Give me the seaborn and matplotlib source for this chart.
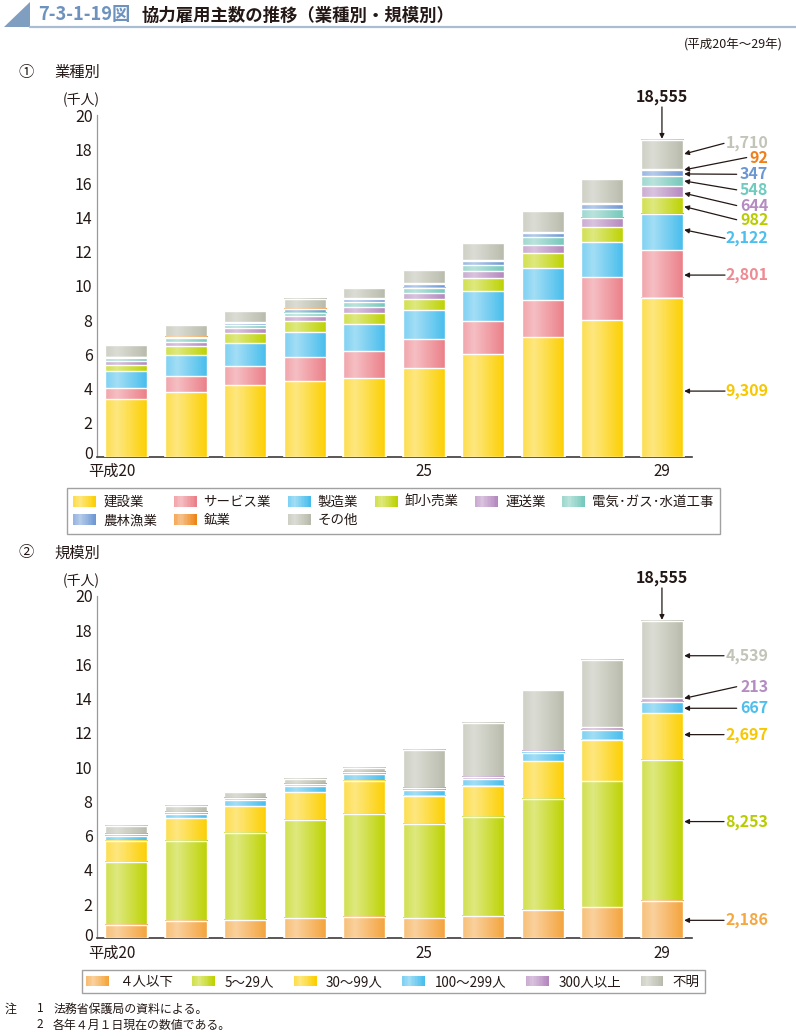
import numpy as np
import pandas as pd
import matplotlib
matplotlib.use('Agg')
import matplotlib.pyplot as plt
import seaborn as sns
from matplotlib.patches import Patch, Rectangle, Polygon
from matplotlib.legend_handler import HandlerBase
from matplotlib.lines import Line2D
from matplotlib import colors as mcolors
import matplotlib.transforms as mtrans

# ---------------- data (千人) ----------------
years = ['平成20', '21', '22', '23', '24', '25', '26', '27', '28', '29']
tick_pos = [0, 5, 9]
tick_labels = ['平成20', '25', '29']

ind_names = ['建設業', 'サービス業', '製造業', '卸小売業', '運送業',
             '電気･ガス･水道工事', '農林漁業', '鉱業', 'その他']
construction = [3.35, 3.78, 4.21, 4.44, 4.62, 5.20, 6.02, 7.01, 8.00, 9.309]
service = [0.66, 0.95, 1.11, 1.40, 1.58, 1.69, 1.93, 2.14, 2.53, 2.801]
manufacturing = [0.98, 1.23, 1.34, 1.44, 1.56, 1.67, 1.75, 1.91, 2.01, 2.122]
wholesale = [0.38, 0.52, 0.58, 0.66, 0.66, 0.66, 0.76, 0.84, 0.90, 0.982]
transport = [0.24, 0.24, 0.28, 0.27, 0.35, 0.35, 0.39, 0.47, 0.55, 0.644]
utilities = [0.15, 0.23, 0.19, 0.23, 0.27, 0.33, 0.37, 0.46, 0.51, 0.548]
agriculture = [0.05, 0.06, 0.12, 0.19, 0.19, 0.19, 0.23, 0.26, 0.27, 0.347]
mining = [0.02, 0.02, 0.03, 0.04, 0.05, 0.05, 0.06, 0.07, 0.08, 0.092]
other_ind = [0.68, 0.68, 0.64, 0.58, 0.60, 0.80, 1.01, 1.22, 1.40, 1.710]

size_names = ['４人以下', '5～29人', '30～99人', '100～299人', '300人以上', '不明']
s_1_4 = [0.80, 1.03, 1.09, 1.17, 1.23, 1.17, 1.32, 1.64, 1.81, 2.186]
s_5_29 = [3.66, 4.65, 5.08, 5.74, 6.02, 5.51, 5.77, 6.50, 7.36, 8.253]
s_30_99 = [1.25, 1.32, 1.54, 1.62, 1.93, 1.62, 1.81, 2.20, 2.43, 2.697]
s_100_299 = [0.29, 0.29, 0.35, 0.35, 0.41, 0.35, 0.39, 0.47, 0.56, 0.667]
s_300 = [0.08, 0.10, 0.12, 0.12, 0.12, 0.12, 0.12, 0.16, 0.16, 0.213]
s_unknown = [0.47, 0.33, 0.35, 0.33, 0.25, 2.26, 3.17, 3.51, 3.95, 4.539]

# ---------------- style ----------------
ind_colors = ['#FCCF00', '#EB7E87', '#46BDEC', '#BDD200', '#B487BE',
              '#74C7BA', '#6C97D4', '#EE8516', '#B8BBAB']
ind_text_colors = ['#F7C700', '#EE8A92', '#4DBFEC', '#B9CC00', '#B58CC2',
                   '#6ECBBE', '#6B97D3', '#EE7F1A', '#C2C4B8']
size_colors = ['#F4A33B', '#BDD200', '#FCCF00', '#46BDEC', '#B487BE', '#B8BBAB']
size_text_colors = ['#F5A742', '#B9CC00', '#F7C700', '#4DBFEC', '#B58CC2', '#C2C4B8']
DARK = '#231815'
BAR_W = 0.707

sns.set_theme(style='white')
plt.rcParams['font.family'] = ['Noto Sans CJK JP', 'DejaVu Sans']
plt.rcParams['axes.unicode_minus'] = False


def gradient(c, n=96):
    base = np.array(mcolors.to_rgb(c))
    t = np.linspace(0, 1, n)
    w = np.interp(t, [0, 0.28, 1], [0.30, 0.50, 0.0])
    rgb = base * (1 - w)[:, None] + w[:, None]
    return rgb[None, :, :]


class GradHandler(HandlerBase):
    def create_artists(self, legend, orig_handle, xdescent, ydescent,
                       width, height, fontsize, trans):
        g = gradient(orig_handle.get_facecolor(), n=16)[0]
        n = len(g)
        arts = []
        for i, c in enumerate(g):
            r = Rectangle((-xdescent + width * i / n, -ydescent),
                          width / n * 1.05, height, facecolor=c,
                          edgecolor='none', transform=trans)
            arts.append(r)
        return arts


def draw_stack(ax, layers, cols):
    cums = np.cumsum(np.array(layers), axis=0)
    nl = len(layers)
    for k in range(nl - 1, -1, -1):
        z = 2 + (nl - 1 - k) * 3
        before = len(ax.patches)
        df = pd.DataFrame({'year': years, 'value': cums[k]})
        sns.barplot(data=df, x='year', y='value', order=years, color=cols[k],
                    saturation=1, width=BAR_W, errorbar=None, ax=ax,
                    zorder=z, linewidth=0)
        for p in ax.patches[before:]:
            x0, w, h = p.get_x(), p.get_width(), p.get_height()
            ax.imshow(gradient(cols[k]), extent=(x0, x0 + w, 0, h),
                      aspect='auto', interpolation='bilinear', zorder=z + 1)
            ax.add_patch(Rectangle((x0, 0), w, h, fill=False,
                                   edgecolor='white', lw=1.0, zorder=z + 2))
    return cums


def style_axes(ax):
    ax.set_xlim(-0.5, 9.5)
    ax.set_ylim(0, 20)
    ax.set_yticks(range(0, 21, 2))
    ax.set_xticks(tick_pos)
    ax.set_xticklabels(tick_labels)
    ax.set_xlabel('')
    ax.set_ylabel('')
    sns.despine(ax=ax)
    ax.spines['left'].set_color('#9a9a9a')
    ax.spines['left'].set_linewidth(0.9)
    ax.spines['bottom'].set_color('#3e3a39')
    ax.spines['bottom'].set_linewidth(1.2)
    ax.tick_params(axis='y', direction='in', length=5, width=0.8,
                   color='#8c8c8c', labelsize=11.5, pad=3, labelcolor=DARK)
    ax.tick_params(axis='x', length=0, labelsize=11, pad=4.5, labelcolor=DARK)
    lab = ax.get_xticklabels()[0]
    lab.set_ha('right')
    lab.set_transform(lab.get_transform() +
                      mtrans.ScaledTranslation(0.09, 0, fig.dpi_scale_trans))
    zero = ax.get_yticklabels()[0]
    zero.set_transform(zero.get_transform() +
                       mtrans.ScaledTranslation(0, 0.04, fig.dpi_scale_trans))
    ax.grid(False)


def label_arrow(ax, text, color, ty, tip_y, tail_x):
    tip_x = 9 + BAR_W / 2 + 0.02
    ax.annotate('', xy=(tip_x, tip_y), xytext=(tail_x, ty),
                arrowprops=dict(arrowstyle='-|>', color=DARK, lw=0.9,
                                mutation_scale=7, shrinkA=0, shrinkB=0),
                annotation_clip=False, zorder=60)
    ax.text(10.787, ty, text, ha='right', va='center', color=color,
            fontsize=11.5, fontweight='bold', clip_on=False)


def total_arrow(ax, total):
    ax.annotate('', xy=(9, total + 0.05), xytext=(9, 20.47),
                arrowprops=dict(arrowstyle='-|>', color=DARK, lw=0.9,
                                mutation_scale=7, shrinkA=0, shrinkB=0),
                annotation_clip=False, zorder=60)
    ax.text(9, 21.08, f"{round(total * 1000):,}", ha='center', va='center',
            color=DARK, fontsize=11.5, fontweight='bold', clip_on=False)


W, H = 796, 1036
fig = plt.figure(figsize=(W / 100, H / 100), dpi=100)
ax1 = fig.add_axes([96.7 / W, (H - 456.7) / H, 595 / W, 341.7 / H])
ax2 = fig.add_axes([96.7 / W, (H - 938.3) / H, 595 / W, 342.3 / H])

# ---- chart 1 : 業種別 ----
ind_layers = [construction, service, manufacturing, wholesale, transport,
              utilities, agriculture, mining, other_ind]
draw_stack(ax1, ind_layers, ind_colors)
style_axes(ax1)

# annotation layout: (layer index, text y, tip y, tail x)
ind_ann = [(8, 18.34, 17.72, 10.043), (7, 17.51, 16.79, 10.424),
           (6, 16.53, 16.55, 10.256), (5, 15.62, 16.14, 10.256),
           (4, 14.70, 15.42, 10.256), (3, 13.87, 14.64, 10.256),
           (2, 12.78, 13.28, 10.06), (1, 10.63, 10.63, 10.06),
           (0, 3.84, 3.84, 10.06)]
for k, ty, tip, tx in ind_ann:
    v = ind_layers[k][-1]
    label_arrow(ax1, f"{round(v * 1000):,}", ind_text_colors[k], ty, tip, tx)
total_arrow(ax1, sum(l[-1] for l in ind_layers))

# ---- chart 2 : 規模別 ----
size_layers = [s_1_4, s_5_29, s_30_99, s_100_299, s_300, s_unknown]
draw_stack(ax2, size_layers, size_colors)
style_axes(ax2)
size_ann = [(5, 16.51, 16.51, 10.043), (4, 14.70, 14.02, 10.256),
            (3, 13.44, 13.44, 10.256), (2, 11.90, 11.90, 10.043),
            (1, 6.82, 6.82, 10.043), (0, 1.05, 1.05, 10.043)]
for k, ty, tip, tx in size_ann:
    v = size_layers[k][-1]
    label_arrow(ax2, f"{round(v * 1000):,}", size_text_colors[k], ty, tip, tx)
total_arrow(ax2, sum(l[-1] for l in size_layers))

# ---- legends ----
order1 = [0, 6, 1, 7, 2, 8, 3, 4, 5]
h1 = [Patch(facecolor=ind_colors[i]) for i in order1]
l1 = [ind_names[i] for i in order1]
leg1 = fig.legend(h1, l1, loc='upper left', bbox_to_anchor=(66.7 / W, 1 - 488.3 / H),
                  ncol=6, fontsize=9.7, handlelength=1.7, handleheight=0.8,
                  handletextpad=0.5, columnspacing=1.25, borderpad=0.5,
                  labelspacing=0.3, borderaxespad=0, fancybox=False,
                  frameon=True, edgecolor='#8a8a8a',
                  handler_map={Patch: GradHandler()})
leg1.get_frame().set_linewidth(1.0)

h2 = [Patch(facecolor=c) for c in size_colors]
leg2 = fig.legend(h2, size_names, loc='upper left', bbox_to_anchor=(81.7 / W, 1 - 970 / H),
                  ncol=6, fontsize=9.7, handlelength=1.7, handleheight=0.8,
                  handletextpad=0.7, columnspacing=1.45, borderpad=0.35,
                  borderaxespad=0, fancybox=False, frameon=True,
                  edgecolor='#8a8a8a', handler_map={Patch: GradHandler()})
leg2.get_frame().set_linewidth(1.0)
for lg in (leg1, leg2):
    for t in lg.get_texts():
        t.set_color(DARK)

# ---- header & texts ----
fig.add_artist(Polygon([[4 / W, 1 - 26.7 / H], [30 / W, 1 - 26.7 / H], [30 / W, 1 - 1.7 / H]],
                       closed=True, transform=fig.transFigure, facecolor='#7F9EC0',
                       edgecolor='none'))
fig.add_artist(Line2D([30 / W, 1], [1 - 26.7 / H] * 2, color='#A9BDD3', lw=1.6,
                      transform=fig.transFigure))
fig.text(38.3 / W, 1 - 20.5 / H, '7-3-1-19図', color='#6E92BE', fontsize=13.2,
         fontweight='bold', va='baseline')
fig.text(141.7 / W, 1 - 20.5 / H, '協力雇用主数の推移（業種別・規模別）', color=DARK,
         fontsize=12.5, fontweight='bold', va='baseline')
fig.text(783 / W, 1 - 45 / H, '(平成20年～29年)', ha='right', va='center',
         fontsize=9, color=DARK)
for y, num, name in [(72, '①', '業種別'), (553, '②', '規模別')]:
    fig.text(18 / W, 1 - y / H, num, va='center', fontsize=11, color=DARK)
    fig.text(54 / W, 1 - y / H, name, va='center', fontsize=11, color=DARK)
for y in (100, 581):
    fig.text(63 / W, 1 - y / H, '(千人)', va='center', fontsize=10, color=DARK)

fig.text(5 / W, 1 - 1009 / H, '注', va='center', fontsize=8.6, color=DARK)
fig.text(37 / W, 1 - 1009 / H, '1', va='center', fontsize=8.6, color=DARK)
fig.text(53 / W, 1 - 1009 / H, '法務省保護局の資料による。', va='center', fontsize=8.6, color=DARK)
fig.text(37 / W, 1 - 1025 / H, '2', va='center', fontsize=8.6, color=DARK)
fig.text(53 / W, 1 - 1025 / H, '各年４月１日現在の数値である。', va='center', fontsize=8.6, color=DARK)

fig.savefig('out.png', dpi=100, facecolor='white')
